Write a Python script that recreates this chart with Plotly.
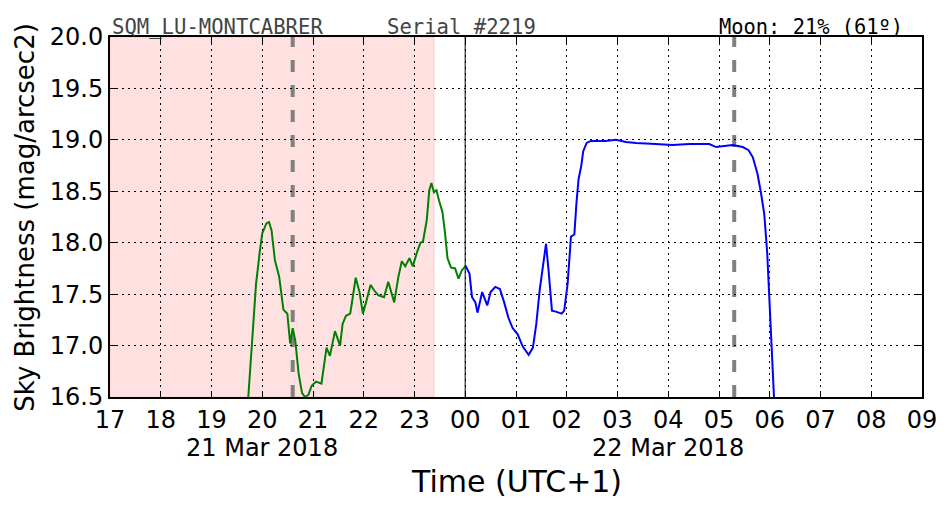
import plotly.graph_objects as go

# ---------------- data ----------------
green_times = ["2018-03-21 19:43:30", "2018-03-21 19:47:30", "2018-03-21 19:52:40", "2018-03-21 19:57:20",
               "2018-03-21 20:00:00", "2018-03-21 20:05:00", "2018-03-21 20:08:00", "2018-03-21 20:11:00",
               "2018-03-21 20:15:00", "2018-03-21 20:20:00", "2018-03-21 20:25:00", "2018-03-21 20:29:40",
               "2018-03-21 20:33:00", "2018-03-21 20:36:00", "2018-03-21 20:39:00", "2018-03-21 20:43:00",
               "2018-03-21 20:47:00", "2018-03-21 20:50:30", "2018-03-21 20:54:30", "2018-03-21 20:58:30",
               "2018-03-21 21:03:30", "2018-03-21 21:10:00", "2018-03-21 21:16:00", "2018-03-21 21:20:00",
               "2018-03-21 21:26:00", "2018-03-21 21:32:00", "2018-03-21 21:35:00", "2018-03-21 21:39:00",
               "2018-03-21 21:44:00", "2018-03-21 21:47:00", "2018-03-21 21:50:30", "2018-03-21 21:55:00",
               "2018-03-21 21:59:00", "2018-03-21 22:02:40", "2018-03-21 22:08:00", "2018-03-21 22:12:00",
               "2018-03-21 22:17:00", "2018-03-21 22:24:00", "2018-03-21 22:29:00", "2018-03-21 22:36:00",
               "2018-03-21 22:41:00", "2018-03-21 22:45:00", "2018-03-21 22:49:00", "2018-03-21 22:54:00",
               "2018-03-21 22:58:00", "2018-03-21 23:02:40", "2018-03-21 23:07:00", "2018-03-21 23:10:00",
               "2018-03-21 23:14:30", "2018-03-21 23:17:30", "2018-03-21 23:20:00", "2018-03-21 23:23:00",
               "2018-03-21 23:26:00", "2018-03-21 23:29:00", "2018-03-21 23:33:00", "2018-03-21 23:36:00",
               "2018-03-21 23:39:00", "2018-03-21 23:43:00", "2018-03-21 23:48:00", "2018-03-21 23:52:00",
               "2018-03-21 23:56:00", "2018-03-22 00:00:00"]
green_vals = [16.50, 17.00, 17.60, 17.93,
              18.09, 18.19, 18.20, 18.12,
              17.83, 17.67, 17.35, 17.31,
              17.02, 17.17, 17.05, 16.73,
              16.54, 16.50, 16.52, 16.61,
              16.65, 16.63, 16.98, 16.90,
              17.14, 17.00, 17.21, 17.29,
              17.31, 17.47, 17.66, 17.52,
              17.31, 17.42, 17.59, 17.54,
              17.49, 17.47, 17.62, 17.42,
              17.67, 17.82, 17.77, 17.85,
              17.77, 17.90, 18.00, 18.01,
              18.22, 18.51, 18.58, 18.49,
              18.51, 18.41, 18.30, 18.10,
              17.85, 17.76, 17.75, 17.65,
              17.73, 17.77]

blue_times = ["2018-03-22 00:00:00", "2018-03-22 00:05:00", "2018-03-22 00:08:00", "2018-03-22 00:12:00",
              "2018-03-22 00:14:30", "2018-03-22 00:20:00", "2018-03-22 00:26:00", "2018-03-22 00:30:00",
              "2018-03-22 00:35:30", "2018-03-22 00:41:00", "2018-03-22 00:46:00", "2018-03-22 00:51:00",
              "2018-03-22 00:56:00", "2018-03-22 01:02:00", "2018-03-22 01:08:00", "2018-03-22 01:15:00",
              "2018-03-22 01:20:00", "2018-03-22 01:24:00", "2018-03-22 01:28:00", "2018-03-22 01:32:00",
              "2018-03-22 01:35:30", "2018-03-22 01:38:30", "2018-03-22 01:42:30", "2018-03-22 01:47:00",
              "2018-03-22 01:54:00", "2018-03-22 01:57:00", "2018-03-22 02:01:00", "2018-03-22 02:05:00",
              "2018-03-22 02:09:00", "2018-03-22 02:11:30", "2018-03-22 02:14:00", "2018-03-22 02:17:00",
              "2018-03-22 02:19:30", "2018-03-22 02:23:30", "2018-03-22 02:28:30", "2018-03-22 02:46:00",
              "2018-03-22 02:58:00", "2018-03-22 03:10:00", "2018-03-22 03:22:00", "2018-03-22 03:45:00",
              "2018-03-22 04:05:00", "2018-03-22 04:25:00", "2018-03-22 04:48:30", "2018-03-22 04:56:30",
              "2018-03-22 05:04:00", "2018-03-22 05:16:00", "2018-03-22 05:28:00", "2018-03-22 05:35:00",
              "2018-03-22 05:40:00", "2018-03-22 05:45:30", "2018-03-22 05:49:30", "2018-03-22 05:53:30",
              "2018-03-22 05:57:00", "2018-03-22 05:59:30", "2018-03-22 06:03:00", "2018-03-22 06:05:00"]
blue_vals = [17.78, 17.70, 17.47, 17.42,
             17.32, 17.52, 17.39, 17.52,
             17.57, 17.55, 17.42, 17.27,
             17.17, 17.11, 16.99, 16.91,
             16.98, 17.21, 17.54, 17.76,
             17.99, 17.73, 17.34, 17.33,
             17.31, 17.34, 17.60, 18.06,
             18.08, 18.39, 18.62, 18.74,
             18.89, 18.97, 18.99, 18.99,
             19.00, 18.98, 18.97, 18.96,
             18.95, 18.96, 18.96, 18.93,
             18.94, 18.95, 18.93, 18.90,
             18.83, 18.67, 18.49, 18.28,
             17.90, 17.47, 16.82, 16.50]

x_range = ["2018-03-21 17:00", "2018-03-22 09:00"]
y_range = [16.5, 20.0]
y_ticks = [16.5, 17.0, 17.5, 18.0, 18.5, 19.0, 19.5, 20.0]
x_ticks = ["2018-03-21 %02d:00" % h for h in range(17, 24)] + ["2018-03-22 %02d:00" % h for h in range(0, 10)]
shade_range = ["2018-03-21 17:00", "2018-03-21 23:23"]
dashed_events = ["2018-03-21 20:36", "2018-03-22 05:18"]
midnight = "2018-03-22 00:00"
date_labels = ["21 Mar 2018", "22 Mar 2018"]
date_label_pos = ["2018-03-21 20:00", "2018-03-22 04:00"]
title_left = "SQM_LU-MONTCABRER"
title_mid = "Serial #2219"
title_right = "Moon: 21% (61º)"

# ---------------- figure ----------------
fig = go.Figure()
fig.add_trace(go.Scatter(x=green_times, y=green_vals, mode="lines",
                         line=dict(color="#008000", width=2), showlegend=False))
fig.add_trace(go.Scatter(x=blue_times, y=blue_vals, mode="lines",
                         line=dict(color="#0000ff", width=2), showlegend=False))

fig.add_shape(type="rect", xref="x", yref="paper", x0=shade_range[0], x1=shade_range[1], y0=0, y1=1,
              fillcolor="#ffe1e1", line=dict(color="#ffc8c8", width=1), layer="below")
fig.add_shape(type="line", xref="x", yref="paper", x0=midnight, x1=midnight, y0=0, y1=1,
              line=dict(color="#555555", width=1.5), layer="between")
for d in dashed_events:
    fig.add_shape(type="line", xref="x", yref="paper", x0=d, x1=d, y0=0, y1=1,
                  line=dict(color="#808080", width=4, dash="12px,13px"), layer="between")

font_main = "DejaVu Sans, Verdana, sans-serif"
font_mono = "DejaVu Sans Mono, monospace"

fig.update_layout(
    width=952, height=512,
    margin=dict(l=110, r=30, t=37, b=115),
    paper_bgcolor="white", plot_bgcolor="white",
    font=dict(family=font_main, size=24, color="black"),
    xaxis=dict(type="date", range=x_range, tickvals=x_ticks, tickformat="%H",
               showgrid=True, gridcolor="black", gridwidth=1, griddash="2px,4px",
               showline=True, linecolor="black", linewidth=2, mirror="allticks",
               ticks="inside", ticklen=6, tickcolor="black", tickwidth=1,
               tickfont=dict(size=24), zeroline=False),
    yaxis=dict(range=y_range, tickvals=y_ticks, tickformat=".1f",
               showgrid=True, gridcolor="black", gridwidth=1, griddash="2px,4px",
               showline=True, linecolor="black", linewidth=2, mirror="allticks",
               ticks="inside", ticklen=6, tickcolor="black", tickwidth=1,
               tickfont=dict(size=24), zeroline=False),
)

annotations = []
for lab, pos in zip(date_labels, date_label_pos):
    annotations.append(dict(x=pos, xref="x", y=-0.0972, yref="paper", text=lab, showarrow=False,
                            xanchor="center", yanchor="top", font=dict(size=24)))
annotations.append(dict(x=0.5, xref="paper", y=-0.236, yref="paper", text="Time (UTC+1)",
                        showarrow=False, xanchor="center", yanchor="middle", font=dict(size=30)))
annotations.append(dict(x=-0.105, xref="paper", y=0.5, yref="paper", text="Sky Brightness (mag/arcsec2)",
                        textangle=-90, showarrow=False, xanchor="center", yanchor="middle",
                        font=dict(size=26)))
annotations.append(dict(x=0, xref="paper", y=1, yref="paper", text=title_left, showarrow=False,
                        xanchor="left", yanchor="bottom", yshift=-4,
                        font=dict(family=font_mono, size=20.6, color="#444444")))
annotations.append(dict(x=(385 - 110) / 812, xref="paper", y=1, yref="paper", text=title_mid,
                        showarrow=False, xanchor="left", yanchor="bottom", yshift=-4,
                        font=dict(family=font_mono, size=20.6, color="#444444")))
annotations.append(dict(x=(905 - 110) / 812, xref="paper", y=1, yref="paper", text=title_right,
                        showarrow=False, xanchor="right", yanchor="bottom", yshift=-4,
                        font=dict(family=font_mono, size=20.4, color="black")))
fig.update_layout(annotations=annotations)

fig.write_html("out.html")
